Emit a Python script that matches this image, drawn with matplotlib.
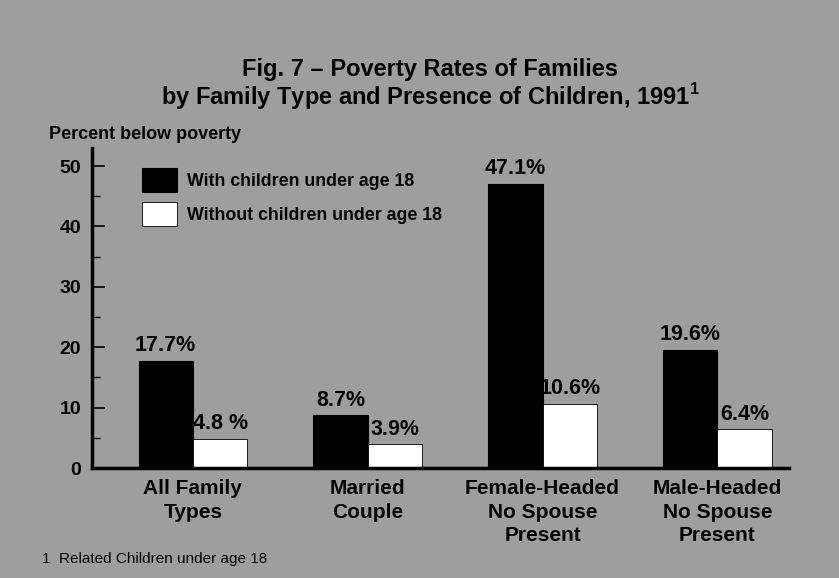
import numpy as np
import matplotlib
matplotlib.use('Agg')
import matplotlib.pyplot as plt

# --- DATA ---
categories = ['All Family\nTypes', 'Married\nCouple', 'Female-Headed\nNo Spouse\nPresent', 'Male-Headed\nNo Spouse\nPresent']
with_children = [17.7, 8.7, 47.1, 19.6]
without_children = [4.8, 3.9, 10.6, 6.4]
with_labels = ['17.7%', '8.7%', '47.1%', '19.6%']
without_labels = ['4.8 %', '3.9%', '10.6%', '6.4%']
series_names = ['With children under age 18', 'Without children under age 18']
title = 'Fig. 7 \u2013 Poverty Rates of Families\nby Family Type and Presence of Children, 1991$^{\\mathregular{1}}$'

# --- STYLE ---
plt.rcParams['font.family'] = ['Liberation Sans', 'DejaVu Sans']
BG = '#9e9e9e'

fig = plt.figure(figsize=(8.39, 5.78), dpi=100, facecolor=BG)
ax = fig.add_axes([0.1097, 0.1903, 0.8307, 0.5537])
ax.set_facecolor('none')

x = np.arange(len(categories))
w = 0.311
b1 = ax.bar(x - w / 2, with_children, w, color='black', edgecolor='black', linewidth=0.8,
            label=series_names[0])
b2 = ax.bar(x + w / 2, without_children, w, color='white', edgecolor='black', linewidth=0.6,
            label=series_names[1])

# value labels above the bars
for bars, labels in [(b1, with_labels), (b2, without_labels)]:
    for rect, lab in zip(bars, labels):
        ax.annotate(lab, (rect.get_x() + rect.get_width() / 2, rect.get_height()),
                    xytext=(0, 7), textcoords='offset points', ha='center', va='baseline',
                    fontsize=15.5, fontweight='bold')

# --- AXES ---
ax.set_xlim(-0.577, 3.41)
ax.set_ylim(0, 53)
ax.set_yticks(range(0, 51, 10))
ax.set_yticks(range(5, 51, 10), minor=True)
ax.tick_params(axis='y', which='major', direction='in', length=9, width=1.2, labelsize=14, pad=8)
ax.tick_params(axis='y', which='minor', direction='in', length=6, width=1.0)
for t in ax.get_yticklabels():
    t.set_fontweight('bold')
ax.set_xticks(x)
ax.set_xticklabels(categories, fontsize=15, fontweight='bold', linespacing=1.3, va='top')
ax.tick_params(axis='x', length=0, pad=8)
for s in ['top', 'right']:
    ax.spines[s].set_visible(False)
ax.spines['left'].set_linewidth(2.5)
ax.spines['bottom'].set_linewidth(2.5)

ax.legend(loc='upper left', bbox_to_anchor=(0.0616, 0.96), frameon=False,
          prop={'size': 12.8, 'weight': 'bold'}, handlelength=1.97, handleheight=1.743,
          handletextpad=0.56, labelspacing=0.53, borderaxespad=0)

# --- TEXT ---
fig.text(0.513, 0.853, title, ha='center', va='center', multialignment='center',
         fontsize=17, fontweight='bold', linespacing=1.0)
fig.text(0.058, 0.767, 'Percent below poverty', ha='left', va='center', fontsize=13,
         fontweight='bold')
fig.text(0.05, 0.033, '1  Related Children under age 18', ha='left', va='center', fontsize=11)

plt.savefig('out.png', dpi=100, facecolor=BG)
